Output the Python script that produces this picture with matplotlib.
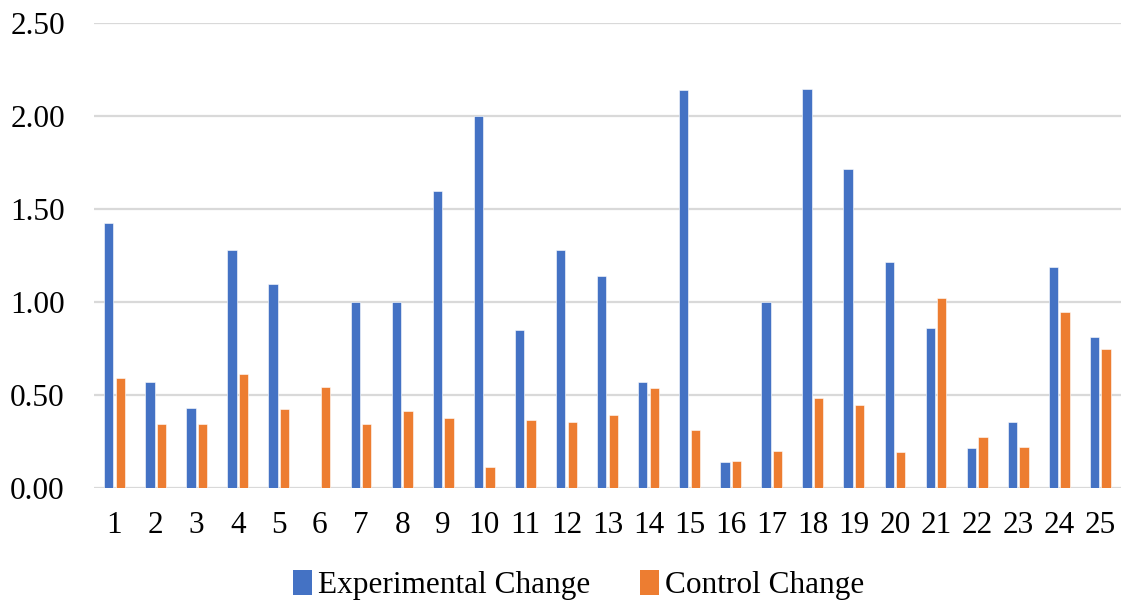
import numpy as np
import matplotlib.pyplot as plt
from matplotlib.patches import Patch

# values
participants = [str(i) for i in range(1, 26)]
experimental_change = [1.425, 0.569, 0.431, 1.279, 1.098, 0.0, 1.0, 1.0, 1.599, 2.0,
                       0.849, 1.279, 1.139, 0.569, 2.139, 0.138, 1.0, 2.144, 1.714, 1.213,
                       0.858, 0.214, 0.353, 1.190, 0.809]
control_change = [0.589, 0.343, 0.343, 0.610, 0.422, 0.544, 0.343, 0.411, 0.375, 0.111,
                  0.366, 0.353, 0.389, 0.535, 0.310, 0.144, 0.199, 0.483, 0.443, 0.194,
                  1.021, 0.273, 0.217, 0.944, 0.748]
y_ticks = [0.0, 0.5, 1.0, 1.5, 2.0, 2.5]

blue = "#4472C4"
orange = "#ED7D31"
grid = "#D9D9D9"

plt.rcParams["font.family"] = ["Liberation Serif", "DejaVu Serif"]

fig = plt.figure(figsize=(11.22, 6.03), dpi=100)
ax = fig.add_axes([0.0838, 0.1912, 0.9152, 0.7702])

x = np.arange(len(participants))
w = 0.227
off = 0.141
ax.bar(x - off, experimental_change, w, color=blue, edgecolor="white", linewidth=0.4, zorder=3)
ax.bar(x + off, control_change, w, color=orange, edgecolor="white", linewidth=0.4, zorder=3)

ax.set_xlim(-0.5, len(participants) - 0.5)
ax.set_ylim(0, 2.5)
ax.set_yticks(y_ticks)
ax.set_yticklabels([f"{v:.2f}" for v in y_ticks])
ax.set_xticks(x)
ax.set_xticklabels(participants)
ax.tick_params(axis="both", length=0, labelsize=22.5, colors="black")
ax.tick_params(axis="y", pad=21)
ax.tick_params(axis="x", pad=17)

ax.yaxis.grid(True, color=grid, linewidth=1.6, zorder=0)
ax.set_axisbelow(True)
for s in ax.spines.values():
    s.set_visible(False)

handles = [Patch(facecolor=blue, label="Experimental Change"),
           Patch(facecolor=orange, label="Control Change")]
fig.legend(handles=handles, loc="center", bbox_to_anchor=(0.516, 0.03), ncol=2,
           frameon=False, fontsize=22.5, handlelength=0.6, handleheight=0.9,
           handletextpad=0.2, columnspacing=1.6)

fig.savefig("out.png", dpi=100)
